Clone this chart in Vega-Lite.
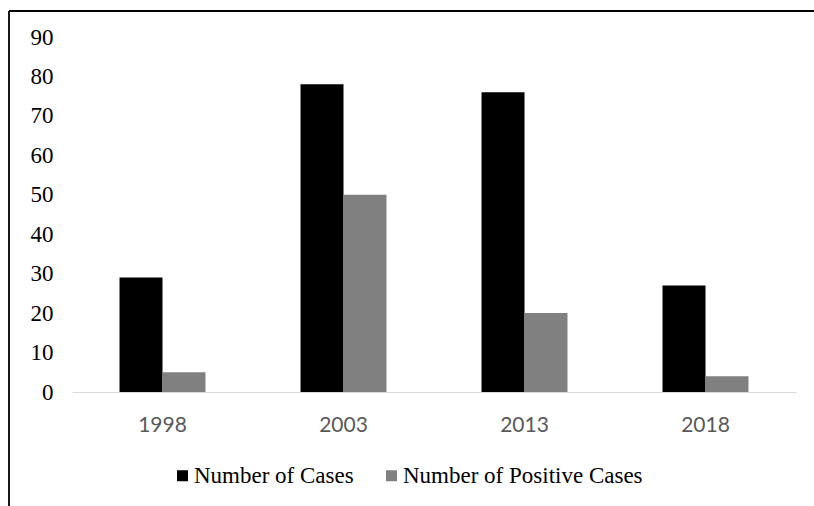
{
  "$schema": "https://vega.github.io/schema/vega-lite/v6.json",
  "width": 805,
  "height": 495,
  "autosize": {"type": "none"},
  "padding": {"left": 9, "top": 11, "right": 0, "bottom": 0},
  "background": "white",
  "config": {
    "view": {"stroke": "#000000", "strokeWidth": 1.8, "strokeDash": [805, 1300, 495, 0]}
  },
  "data": {
    "values": [
      {"year": "1998", "series": "Number of Cases", "value": 29},
      {"year": "1998", "series": "Number of Positive Cases", "value": 5},
      {"year": "2003", "series": "Number of Cases", "value": 78},
      {"year": "2003", "series": "Number of Positive Cases", "value": 50},
      {"year": "2013", "series": "Number of Cases", "value": 76},
      {"year": "2013", "series": "Number of Positive Cases", "value": 20},
      {"year": "2018", "series": "Number of Cases", "value": 27},
      {"year": "2018", "series": "Number of Positive Cases", "value": 4}
    ]
  },
  "mark": {"type": "bar"},
  "encoding": {
    "x": {
      "field": "year",
      "type": "nominal",
      "scale": {"range": [63, 787], "paddingInner": 0.525, "paddingOuter": 0.2625},
      "axis": {
        "title": null,
        "orient": "bottom",
        "offset": -114,
        "labelAngle": 0,
        "domainColor": "#d9d9d9",
        "domainWidth": 1.2,
        "ticks": false,
        "labelPadding": 22,
        "labelFont": "Lato",
        "labelFontSize": 21,
        "labelColor": "#595959"
      }
    },
    "xOffset": {
      "field": "series",
      "type": "nominal",
      "sort": ["Number of Cases", "Number of Positive Cases"],
      "scale": {"paddingInner": 0, "paddingOuter": 0}
    },
    "y": {
      "field": "value",
      "type": "quantitative",
      "scale": {"domain": [0, 90], "range": [381, 26], "nice": false},
      "axis": {
        "title": null,
        "orient": "left",
        "offset": -44,
        "values": [0, 10, 20, 30, 40, 50, 60, 70, 80, 90],
        "domain": false,
        "ticks": false,
        "grid": false,
        "labelPadding": 0,
        "labelFont": "Liberation Serif",
        "labelFontSize": 23,
        "labelColor": "#000000"
      }
    },
    "color": {
      "field": "series",
      "type": "nominal",
      "sort": ["Number of Cases", "Number of Positive Cases"],
      "scale": {"domain": ["Number of Cases", "Number of Positive Cases"], "range": ["#000000", "#808080"]},
      "legend": {
        "title": null,
        "orient": "none",
        "legendX": 162,
        "legendY": 453,
        "padding": 0,
        "direction": "horizontal",
        "symbolType": "square",
        "symbolSize": 121,
        "symbolStrokeWidth": 0,
        "labelFont": "Liberation Serif",
        "labelFontSize": 23,
        "labelColor": "#000000",
        "labelOffset": 0,
        "labelLimit": 0,
        "columnPadding": 26
      }
    }
  }
}
